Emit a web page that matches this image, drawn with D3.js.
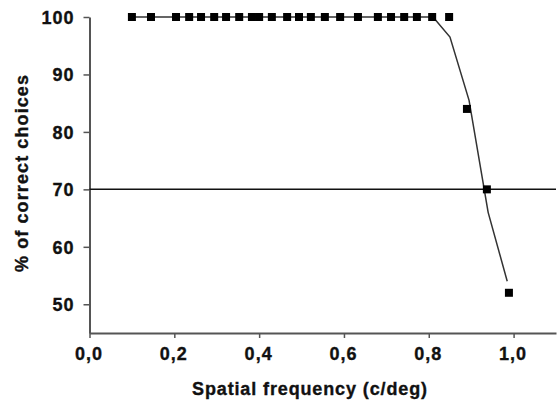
<!DOCTYPE html>
<html>
<head>
<meta charset="utf-8">
<script src="https://cdn.jsdelivr.net/npm/d3@7"></script>
<style>
  body { margin: 0; background: #fff; }
  svg { display: block; }
  .axis text { font-family: "Liberation Sans", Arial, sans-serif; font-weight: bold; font-size: 18px; fill: #111; stroke: #111; stroke-width: 0.35px; letter-spacing: 1px; }
  .title { font-family: "Liberation Sans", Arial, sans-serif; font-weight: bold; font-size: 18px; fill: #111; stroke: #111; stroke-width: 0.35px; }
</style>
</head>
<body>
<svg id="chart"></svg>
<script>
// observed points (spatial frequency, % correct)
const freq = [0.10, 0.145, 0.204, 0.235, 0.263, 0.294, 0.322, 0.353, 0.383, 0.40,
  0.43, 0.466, 0.494, 0.522, 0.555, 0.591, 0.633, 0.68, 0.711, 0.742, 0.772, 0.808, 0.848,
  0.89, 0.937, 0.989];
const correct = [100, 100, 100, 100, 100, 100, 100, 100, 100, 100,
  100, 100, 100, 100, 100, 100, 100, 100, 100, 100, 100, 100, 100,
  84, 70, 52];

// fitted curve
const fitFreq = [0.10, 0.81, 0.85, 0.895, 0.94, 0.985];
const fitCorrect = [100, 100, 96.5, 85.5, 66, 54];

const threshold = 70;
const yTicks = [50, 60, 70, 80, 90, 100];
const xTicks = [0, 0.2, 0.4, 0.6, 0.8, 1.0];

const W = 559, H = 403;
const margin = { top: 17, right: 3, bottom: 70, left: 89.5 };
const width = W - margin.left - margin.right;
const height = H - margin.top - margin.bottom;

const svg = d3.select("#chart").attr("width", W).attr("height", H);
const g = svg.append("g").attr("transform", `translate(${margin.left},${margin.top})`);

const x = d3.scaleLinear().domain([0, 1.1]).range([0, width]);
const y = d3.scaleLinear().domain([45, 100]).range([height, 0]);

// x axis
const xAxis = g.append("g")
  .attr("class", "axis")
  .attr("transform", `translate(0,${height})`)
  .call(d3.axisBottom(x).tickValues(xTicks).tickSize(5).tickSizeOuter(0)
    .tickFormat(d => d3.format(".1f")(d).replace(".", ",")));
xAxis.select(".domain").attr("stroke", "#555").attr("stroke-width", 2);
xAxis.selectAll(".tick line").attr("stroke", "#555").attr("stroke-width", 1.5);
xAxis.selectAll(".tick text").attr("y", 14).attr("dx", -1);

// y axis
const yAxis = g.append("g")
  .attr("class", "axis")
  .call(d3.axisLeft(y).tickValues(yTicks).tickSize(6).tickSizeOuter(0));
yAxis.select(".domain").attr("stroke", "#555").attr("stroke-width", 2);
yAxis.selectAll(".tick line").attr("stroke", "#555").attr("stroke-width", 1.5);
yAxis.selectAll(".tick text").attr("x", -15).attr("dy", "0.36em");

// 70% criterion line
g.append("line")
  .attr("x1", 0).attr("x2", width)
  .attr("y1", y(threshold)).attr("y2", y(threshold))
  .attr("stroke", "#111").attr("stroke-width", 1.5);

// fitted curve
const fit = fitFreq.map((f, i) => [f, fitCorrect[i]]);
g.append("path")
  .datum(fit)
  .attr("fill", "none")
  .attr("stroke", "#333")
  .attr("stroke-width", 1.5)
  .attr("d", d3.line().x(d => x(d[0])).y(d => y(d[1])));

// data squares
const pts = freq.map((f, i) => ({ f, c: correct[i] }));
const sq = 8;
g.selectAll("rect.pt")
  .data(pts)
  .join("rect")
  .attr("class", "pt")
  .attr("x", d => x(d.f) - sq / 2)
  .attr("y", d => y(d.c) - sq / 2)
  .attr("width", sq).attr("height", sq)
  .attr("fill", "#000");

// axis titles
svg.append("text")
  .attr("class", "title")
  .attr("x", 192).attr("y", 395)
  .attr("textLength", 235)
  .attr("lengthAdjust", "spacing")
  .text("Spatial frequency (c/deg)");

svg.append("text")
  .attr("class", "title")
  .attr("transform", "translate(28,272) rotate(-90)")
  .attr("textLength", 197)
  .attr("lengthAdjust", "spacing")
  .text("% of correct choices");
</script>
</body>
</html>
